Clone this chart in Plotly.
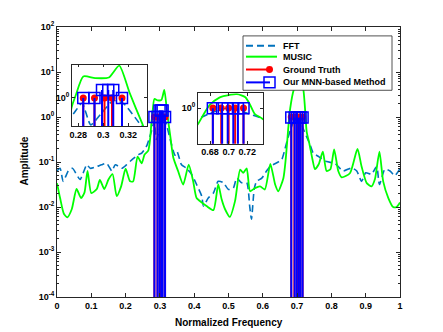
import plotly.graph_objects as go

# ---- data ----
fft_freq = [0.0, 0.009, 0.018, 0.033, 0.045, 0.067, 0.076, 0.087, 0.097, 0.116,
            0.13, 0.145, 0.16, 0.17, 0.189, 0.203, 0.218, 0.237, 0.247, 0.261,
            0.268, 0.276, 0.283, 0.29, 0.298, 0.308, 0.316, 0.33, 0.344, 0.35,
            0.363, 0.378, 0.393, 0.407, 0.422, 0.427, 0.441, 0.456, 0.47, 0.485,
            0.5, 0.514, 0.524, 0.538, 0.553, 0.562, 0.567, 0.575, 0.582, 0.597,
            0.611, 0.621, 0.63, 0.645, 0.655, 0.665, 0.672, 0.68, 0.69, 0.70,
            0.71, 0.72, 0.738, 0.747, 0.763, 0.786, 0.81, 0.834, 0.859, 0.874,
            0.888, 0.90, 0.917, 0.932, 0.94, 0.956, 0.971, 0.985, 1.0]
fft_amp = [0.0631, 0.0724, 0.0372, 0.0631, 0.0724, 0.0407, 0.0562, 0.0871, 0.0724, 0.0794,
           0.0871, 0.0933, 0.0631, 0.0871, 0.0724, 0.0871, 0.112, 0.145, 0.158, 0.224,
           0.316, 0.501, 0.794, 0.316, 0.501, 0.891, 0.794, 0.316, 0.141, 0.170,
           0.0871, 0.0724, 0.0525, 0.0316, 0.0174, 0.0105, 0.0158, 0.0204, 0.0372, 0.0347,
           0.0245, 0.0263, 0.0437, 0.0347, 0.0347, 0.0100, 0.00537, 0.0251, 0.0372, 0.0437,
           0.0631, 0.0794, 0.0871, 0.100, 0.112, 0.200, 0.316, 0.501, 0.794, 1.0,
           0.794, 0.501, 0.240, 0.158, 0.132, 0.102, 0.0933, 0.0631, 0.0741, 0.0631,
           0.0372, 0.0575, 0.0537, 0.0794, 0.0316, 0.0692, 0.0631, 0.0501, 0.0708]

music_freq = [0.0, 0.009, 0.02, 0.03, 0.043, 0.057, 0.07, 0.08, 0.089, 0.10,
              0.116, 0.125, 0.138, 0.15, 0.162, 0.174, 0.187, 0.2, 0.213, 0.222,
              0.235, 0.247, 0.255, 0.266, 0.272, 0.275, 0.278, 0.284, 0.2935, 0.3045,
              0.3128, 0.321, 0.3307, 0.339, 0.353, 0.368, 0.384, 0.397, 0.407, 0.422,
              0.436, 0.456, 0.47, 0.48, 0.49, 0.504, 0.519, 0.534, 0.543, 0.553,
              0.563, 0.577, 0.592, 0.606, 0.622, 0.636, 0.645, 0.66, 0.667, 0.675,
              0.68, 0.69, 0.6944, 0.709, 0.718, 0.723, 0.728, 0.736, 0.745, 0.752,
              0.763, 0.775, 0.786, 0.797, 0.808, 0.82, 0.83, 0.854, 0.876, 0.888,
              0.903, 0.917, 0.927, 0.94, 0.951, 0.966, 0.98, 0.99, 1.0]
music_amp = [0.0339, 0.0158, 0.00708, 0.00589, 0.00891, 0.0251, 0.0158, 0.0209, 0.0631, 0.0204,
             0.0251, 0.0398, 0.0251, 0.0407, 0.0537, 0.0174, 0.0288, 0.0708, 0.0372, 0.0372,
             0.132, 0.0933, 0.145, 0.178, 0.355, 0.708, 1.12, 2.51, 2.34, 2.40,
             3.98, 1.26, 0.355, 0.126, 0.0631, 0.0316, 0.0871, 0.0372, 0.0158, 0.0126,
             0.0105, 0.00851, 0.0316, 0.0148, 0.00891, 0.00603, 0.0135, 0.0676, 0.0575, 0.0724,
             0.0224, 0.0263, 0.0288, 0.0245, 0.0912, 0.0316, 0.0224, 0.0437, 0.120, 0.661,
             1.58, 3.98, 4.79, 6.31, 4.17, 1.58, 0.468, 0.251, 0.112, 0.0692,
             0.0891, 0.170, 0.0631, 0.0692, 0.191, 0.0631, 0.0457, 0.0562, 0.195, 0.0794,
             0.0339, 0.0288, 0.0417, 0.170, 0.0372, 0.0158, 0.0100, 0.0100, 0.0126]

gt_freq = [0.284, 0.293, 0.301, 0.307, 0.315, 0.683, 0.692, 0.700, 0.707, 0.716]
gt_amp = [1.0, 1.0, 1.0, 1.0, 1.0, 1.0, 1.0, 1.0, 1.0, 1.0]

mnn_freq = [0.284, 0.293, 0.299, 0.304, 0.308, 0.315, 0.683, 0.693, 0.699, 0.705, 0.710, 0.716]
mnn_amp = [1.0, 1.0, 1.4, 1.4, 1.4, 1.0, 0.97, 0.97, 0.97, 0.97, 0.97, 0.97]

x_ticks = [0, 0.1, 0.2, 0.3, 0.4, 0.5, 0.6, 0.7, 0.8, 0.9, 1]
y_tickvals = [1e-4, 1e-3, 1e-2, 1e-1, 1, 10, 100]
y_ticktext = ['10<sup>-4</sup>', '10<sup>-3</sup>', '10<sup>-2</sup>', '10<sup>-1</sup>',
              '10<sup>0</sup>', '10<sup>1</sup>', '10<sup>2</sup>']

FONT = 'Liberation Sans'
AX_COLOR = '#262626'

# plot area in screen pixels (443x332 window)
X0, X1, Y0, Y1 = 57, 400, 297, 24
PAGE_OFFSET = 8  # default body margin of the html page


def px(x):
    return (x - X0) / (X1 - X0)


def py(y):
    return (Y0 - y) / (Y0 - Y1)


def stems(freqs, amps):
    xs, ys = [], []
    for f, a in zip(freqs, amps):
        xs += [f, f, None]
        ys += [1e-5, a, None]
    return xs, ys


fig = go.Figure()

gt_x, gt_y = stems(gt_freq, gt_amp)
mnn_x, mnn_y = stems(mnn_freq, mnn_amp)

for xa, ya in [('x', 'y'), ('x2', 'y2'), ('x3', 'y3')]:
    fig.add_trace(go.Scatter(x=fft_freq, y=fft_amp, mode='lines', xaxis=xa, yaxis=ya,
                             line=dict(color='#0072BD', width=1.6, dash='7px,4px', shape='spline', smoothing=0.6),
                             showlegend=False))
    fig.add_trace(go.Scatter(x=music_freq, y=music_amp, mode='lines', xaxis=xa, yaxis=ya,
                             line=dict(color='#00FF00', width=1.8, shape='spline', smoothing=0.6),
                             showlegend=False))
    fig.add_trace(go.Scatter(x=gt_x, y=gt_y, mode='lines', xaxis=xa, yaxis=ya,
                             line=dict(color='#FF0000', width=2), showlegend=False))
    fig.add_trace(go.Scatter(x=gt_freq, y=gt_amp, mode='markers', xaxis=xa, yaxis=ya,
                             marker=dict(color='#FF0000', size=7), showlegend=False))
    fig.add_trace(go.Scatter(x=mnn_x, y=mnn_y, mode='lines', xaxis=xa, yaxis=ya,
                             line=dict(color='#0000FF', width=2), showlegend=False))
    fig.add_trace(go.Scatter(x=mnn_freq, y=mnn_amp, mode='markers', xaxis=xa, yaxis=ya,
                             marker=dict(symbol='square-open', color='#0000FF', size=11,
                                         line=dict(width=1.5, color='#0000FF')),
                             showlegend=False))

tickfont = dict(family=FONT, size=9, color='black', weight='bold')
axis_common = dict(showline=True, linecolor=AX_COLOR, linewidth=0.8, mirror='ticks',
                   ticks='inside', tickcolor=AX_COLOR, tickwidth=0.8, showgrid=False,
                   zeroline=False, tickfont=tickfont)

fig.update_layout(
    width=443, height=332,
    margin=dict(l=X0 - PAGE_OFFSET, r=443 - X1 + PAGE_OFFSET, t=Y1 - PAGE_OFFSET, b=332 - Y0 + PAGE_OFFSET),
    paper_bgcolor='white', plot_bgcolor='white',
    showlegend=False,
    xaxis=dict(domain=[0, 1], range=[0, 1], tickvals=x_ticks, ticklen=4, anchor='y', **axis_common),
    yaxis=dict(domain=[0, 1], type='log', range=[-4, 2], tickvals=y_tickvals, ticktext=y_ticktext,
               ticklen=4, anchor='x',
               minor=dict(ticks='inside', ticklen=2, tickcolor=AX_COLOR, dtick='D1', showgrid=False),
               **axis_common),
    xaxis2=dict(domain=[px(72), px(147)], range=[0.275, 0.335], tickvals=[0.28, 0.30, 0.32],
                ticktext=['0.28', '0.3', '0.32'], ticklen=3, anchor='y2', **axis_common),
    yaxis2=dict(domain=[py(124), py(62)], type='log', range=[-0.52, 0.62], tickvals=[1],
                ticktext=['10<sup>0</sup>'], ticklen=3, anchor='x2', **axis_common),
    xaxis3=dict(domain=[px(198), px(263)], range=[0.667, 0.737], tickvals=[0.68, 0.70, 0.72],
                ticktext=['0.68', '0.7', '0.72'], ticklen=3, anchor='y3', **axis_common),
    yaxis3=dict(domain=[py(142), py(91)], type='log', range=[-2.05, 0.85], tickvals=[1],
                ticktext=['10<sup>0</sup>'], ticklen=3, anchor='x3', **axis_common),
)

# axis titles
fig.add_annotation(text='<b>Normalized Frequency</b>', x=0.5, y=py(323), xref='paper', yref='paper',
                   xanchor='center', yanchor='middle', showarrow=False,
                   font=dict(family=FONT, size=10, color='black'))
fig.add_annotation(text='<b>Amplitude</b>', x=px(25), y=py(160), xref='paper', yref='paper',
                   xanchor='center', yanchor='middle', textangle=-90, showarrow=False,
                   font=dict(family=FONT, size=10, color='black'))

# legend drawn by hand (compact MATLAB-like box)
shapes = [dict(type='rect', xref='paper', yref='paper', x0=px(243), x1=px(392), y0=py(88), y1=py(33),
               fillcolor='white', line=dict(color=AX_COLOR, width=0.8), layer='above')]
legend_rows = [
    ('FFT', '#0072BD', 'dash', None, 43),
    ('MUSIC', '#00FF00', 'solid', None, 54),
    ('Ground Truth', '#FF0000', 'solid', 'circle', 67),
    ('Our MNN-based Method', '#0000FF', 'solid', 'square', 80),
]
for label, color, dash, marker, yy in legend_rows:
    x_end = 277 if marker is None else 270
    shapes.append(dict(type='line', xref='paper', yref='paper', x0=px(246), x1=px(x_end), y0=py(yy), y1=py(yy),
                       line=dict(color=color, width=2, dash='7px,4px' if dash == 'dash' else 'solid'),
                       layer='above'))
    if marker == 'circle':
        shapes.append(dict(type='circle', xref='paper', yref='paper', x0=px(266), x1=px(273),
                           y0=py(yy + 3.5), y1=py(yy - 3.5), fillcolor=color, line=dict(color=color, width=0),
                           layer='above'))
    elif marker == 'square':
        shapes.append(dict(type='rect', xref='paper', yref='paper', x0=px(264), x1=px(275),
                           y0=py(yy + 5.5), y1=py(yy - 5.5), line=dict(color=color, width=1.5),
                           layer='above'))
    fig.add_annotation(text='<b>' + label + '</b>', x=px(281), y=py(yy), xref='paper', yref='paper',
                       xanchor='left', yanchor='middle', showarrow=False,
                       font=dict(family=FONT, size=9, color='black'))
fig.update_layout(shapes=shapes)

fig.write_html("out.html")
